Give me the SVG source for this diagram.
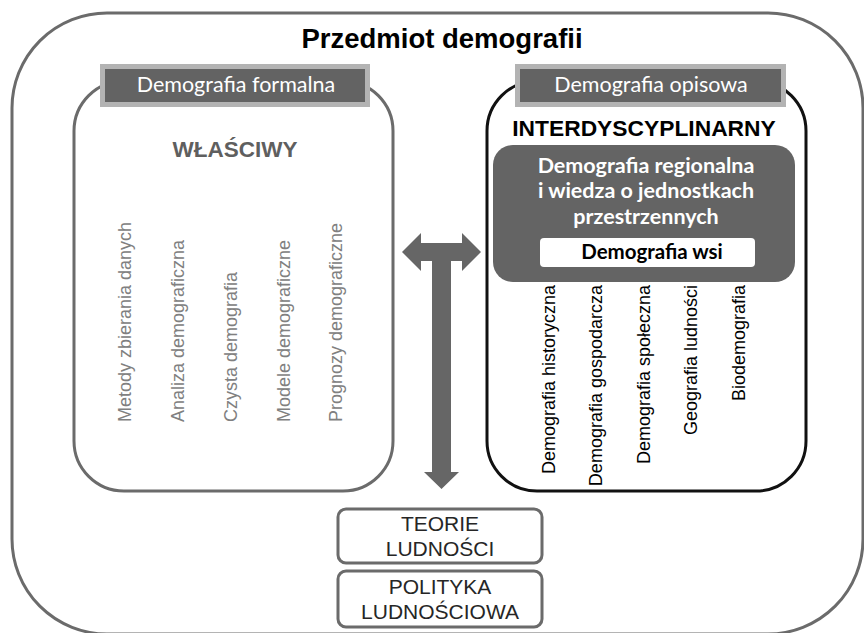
<svg xmlns="http://www.w3.org/2000/svg" width="864" height="633" viewBox="0 0 864 633">
<style>
.frame{fill:none;stroke:#6b6b6b;stroke-width:3}
.lbl{fill:#636363;stroke:#b3b3b3;stroke-width:5}
.lbltxt{font-family:Lato,"Open Sans",sans-serif;font-size:21.5px;fill:#ffffff;text-anchor:middle}
.vl{font-family:"Liberation Sans",Arial,sans-serif;font-size:18px;fill:#808080}
.vr{font-family:"Liberation Sans",Arial,sans-serif;font-size:18px;fill:#000000;text-anchor:end}
.cal{font-family:Lato,"Open Sans",sans-serif;font-weight:700;text-anchor:middle}
.bt{font-family:"Liberation Sans",Arial,sans-serif;font-size:21px;fill:#262626;text-anchor:middle}
</style>
<rect width="864" height="633" fill="#ffffff"/>
<g id="outer">
<rect class="frame" x="12" y="13" width="851" height="621" rx="95"/>
<text x="442" y="48" font-family="Liberation Sans,Arial,sans-serif" font-weight="700" font-size="27.5" text-anchor="middle" fill="#000">Przedmiot demografii</text>
</g>
<g id="formalna">
<rect class="frame" x="74" y="81" width="319" height="410" rx="50"/>
<rect class="lbl" x="102.5" y="66.5" width="265" height="38"/>
<text class="lbltxt" x="236" y="92">Demografia formalna</text>
<text x="235" y="157" font-family="Liberation Sans,Arial,sans-serif" font-weight="700" font-size="22.5" text-anchor="middle" fill="#5f5f5f">WŁAŚCIWY</text>
<text class="vl" transform="translate(131,422) rotate(-90)">Metody zbierania danych</text>
<text class="vl" transform="translate(184,422) rotate(-90)">Analiza demograficzna</text>
<text class="vl" transform="translate(237,422) rotate(-90)">Czysta demografia</text>
<text class="vl" transform="translate(290,422) rotate(-90)">Modele demograficzne</text>
<text class="vl" transform="translate(342,422) rotate(-90)">Prognozy demograficzne</text>
</g>
<g id="opisowa">
<rect x="487" y="81" width="319" height="410" rx="50" fill="none" stroke="#111" stroke-width="3"/>
<rect class="lbl" x="517.5" y="66.5" width="266" height="38"/>
<text class="lbltxt" x="651" y="92">Demografia opisowa</text>
<text x="644" y="136" font-family="Liberation Sans,Arial,sans-serif" font-weight="700" font-size="22.8" text-anchor="middle" fill="#000">INTERDYSCYPLINARNY</text>
</g>
<g id="regionalna">
<rect x="493" y="145" width="302" height="137" rx="20" fill="#646464"/>
<text class="cal" x="646" y="173" font-size="21.5" fill="#fff">Demografia regionalna</text>
<text class="cal" x="646" y="198" font-size="21.5" fill="#fff">i wiedza o jednostkach</text>
<text class="cal" x="646" y="224" font-size="21.5" fill="#fff">przestrzennych</text>
</g>
<g id="wsi">
<rect x="540" y="238" width="215" height="29" rx="4" fill="#fff"/>
<text class="cal" x="652" y="259" font-size="20.5" fill="#000">Demografia wsi</text>
</g>
<g id="subfields">
<text class="vr" transform="translate(555,285) rotate(-90)">Demografia historyczna</text>
<text class="vr" transform="translate(602,285) rotate(-90)">Demografia gospodarcza</text>
<text class="vr" transform="translate(650,285) rotate(-90)">Demografia społeczna</text>
<text class="vr" transform="translate(697,285) rotate(-90)">Geografia ludności</text>
<text class="vr" transform="translate(745,285) rotate(-90)">Biodemografia</text>
</g>
<g id="teorie">
<rect x="338" y="509" width="204" height="54" rx="8" fill="#fff" stroke="#6b6b6b" stroke-width="3"/>
<text class="bt" x="440" y="531">TEORIE</text>
<text class="bt" x="440" y="556">LUDNOŚCI</text>
</g>
<g id="polityka">
<rect x="338" y="571" width="204" height="56" rx="8" fill="#fff" stroke="#6b6b6b" stroke-width="3"/>
<text class="bt" x="440" y="594">POLITYKA</text>
<text class="bt" x="440" y="619">LUDNOŚCIOWA</text>
</g>
<g id="connectors">
<polygon fill="#666666" points="402,252 421,233 421,243 462,243 462,233 481,252 462,271 462,261 451,261 451,472 459,472 441.5,489 424,472 432,472 432,261 421,261 421,271"/>
</g>
</svg>
